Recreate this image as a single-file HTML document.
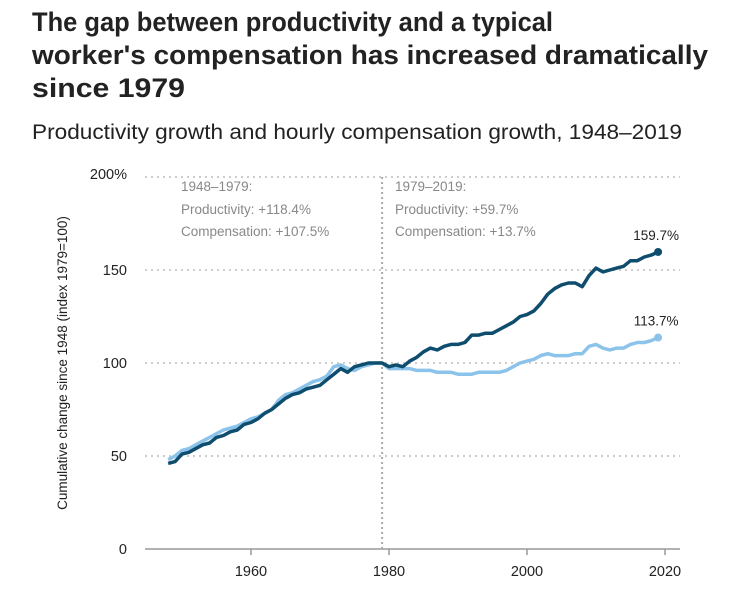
<!DOCTYPE html>
<html><head><meta charset="utf-8"><style>
body{margin:0;background:#fff;width:750px;height:589px;overflow:hidden;font-family:"Liberation Sans",sans-serif}
svg text{font-family:"Liberation Sans",sans-serif}
</style></head><body>
<svg id="c" width="750" height="589">
<text x="32" y="31" font-size="27" font-weight="bold" fill="#222" textLength="521" lengthAdjust="spacingAndGlyphs">The gap between productivity and a typical</text>
<text x="32" y="64" font-size="27" font-weight="bold" fill="#222" textLength="676" lengthAdjust="spacingAndGlyphs">worker's compensation has increased dramatically</text>
<text x="32" y="97" font-size="27" font-weight="bold" fill="#222" textLength="153" lengthAdjust="spacingAndGlyphs">since 1979</text>
<text x="32" y="139" font-size="21" fill="#222" textLength="650" lengthAdjust="spacingAndGlyphs">Productivity growth and hourly compensation growth, 1948–2019</text>
<g id="grid"></g>
<g id="marks"></g>
</svg>
<script>
const years=[];for(let y=1948;y<=2019;y++)years.push(y);
const productivity=[46,47,51,52,54,56,57,60,61,63,
64,67,68,70,73,75,78,81,83,84,
86,87,88,91,94,97,95,98,99,100,
100,100,98,99,98,101,103,106,108,107,
109,110,110,111,115,115,116,116,118,120,
122,125,126,128,132,137,140,142,143,143,
141,147,151,149,150,151,152,155,155,157,
158,159.7];
const compensation=[48,50,53,54,56,58,60,62,64,65,
66,68,70,71,73,75,80,83,84,86,
88,90,91,93,98,99,97,96,98,99,
100,100,97,97,97,97,96,96,96,95,
95,95,94,94,94,95,95,95,95,96,
98,100,101,102,104,105,104,104,104,105,
105,109,110,108,107,108,108,110,111,111,
112,113.7];
const yTicks=[0,50,100,150,200];
const yLabels=["0","50","100","150","200%"];
const xTicks=[1960,1980,2000,2020];
const NS="http://www.w3.org/2000/svg";
const X=v=>251+(v-1960)*6.9;
const Y=v=>549-v*1.86;
const grid=document.getElementById('grid'),marks=document.getElementById('marks');
function mk(tag,attrs,parent,txt){const e=document.createElementNS(NS,tag);for(const k in attrs)e.setAttribute(k,attrs[k]);if(txt!=null)e.textContent=txt;parent.appendChild(e);return e;}
yTicks.forEach((t,i)=>{
  if(t>0){const l=mk('line',{x1:145,x2:680,y1:Y(t),y2:Y(t),stroke:'#ccc','stroke-width':2,'stroke-dasharray':'2 4'},grid);
  
  }
  const tx=mk('text',{x:127,y:Y(t)+(t===200?2:5),'font-size':14.5,fill:'#222','text-anchor':'end'},grid,yLabels[i]);
  
  
});
const ax=mk('line',{x1:145,x2:680,y1:549,y2:549,stroke:'#999','stroke-width':1.5},grid);


xTicks.forEach(t=>{
  const tk=mk('line',{x1:X(t),x2:X(t),y1:549,y2:555,stroke:'#999','stroke-width':1.5},grid);
  
  
  const tx=mk('text',{x:X(t),y:576,'font-size':14.5,fill:'#222','text-anchor':'middle'},grid,String(t));
  
  
});
const vl=mk('line',{x1:X(1979),x2:X(1979),y1:177,y2:549,stroke:'#aaa','stroke-width':2,'stroke-dasharray':'2 3'},grid);


const yt=mk('text',{x:0,y:0,'font-size':13.5,fill:'#222','text-anchor':'middle',transform:'translate(67,363) rotate(-90)'},grid,'Cumulative change since 1948 (index 1979=100)');


const ann=[[181,191,'1948–1979:'],[181,214,'Productivity: +118.4%'],[181,236,'Compensation: +107.5%'],[395,191,'1979–2019:'],[395,214,'Productivity: +59.7%'],[395,236,'Compensation: +13.7%']];
ann.forEach(a=>{const t=mk('text',{x:a[0],y:a[1],'font-size':13.5,fill:'#888'},grid,a[2]);

});
function series(vals,color,name){
  const d=vals.map((v,i)=>(i?'L':'M')+X(years[i]).toFixed(1)+','+Y(v).toFixed(1)).join('');
  const p=mk('path',{d:d,fill:'none',stroke:color,'stroke-width':3.5,'stroke-linejoin':'round'},marks);
  
  
  const n=vals.length-1;
  const c=mk('circle',{cx:X(years[n]),cy:Y(vals[n]),r:4,fill:color},marks);
  
  
  const t=mk('text',{x:X(years[n])-2,y:Y(vals[n])-12,'font-size':13.5,fill:'#222','text-anchor':'middle'},marks,vals[n].toFixed(1)+'%');
  
  
}
series(compensation,'#8cc3ea','compensation');
series(productivity,'#0f4d6e','productivity');
</script>
</body></html>
